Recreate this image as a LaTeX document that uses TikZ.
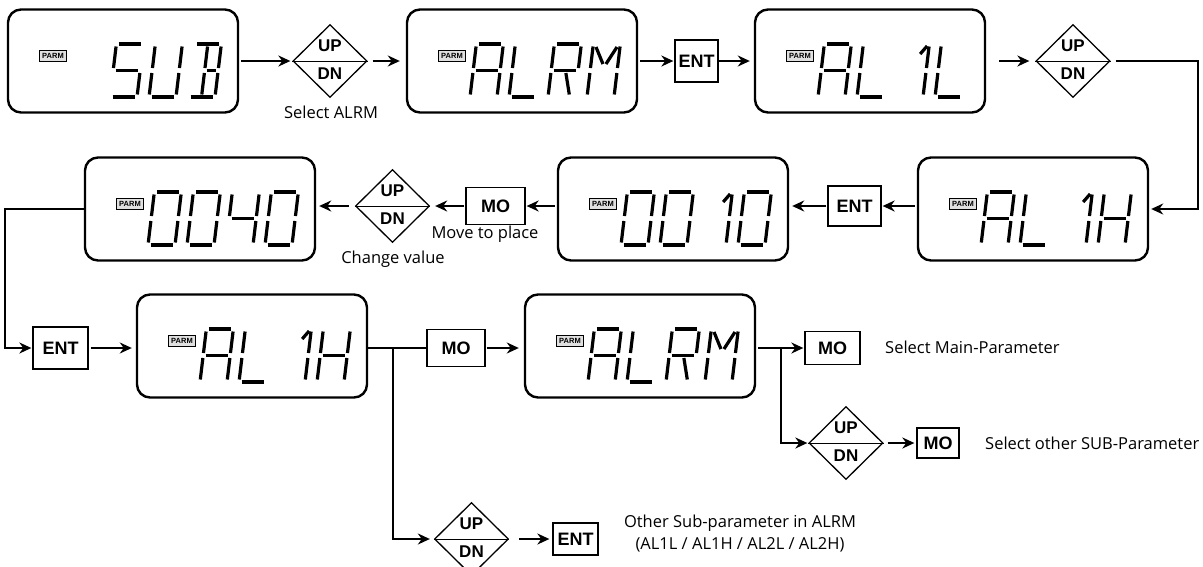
\documentclass[tikz,border=0pt]{standalone}
\usepackage{fontspec}
\setmainfont{Open Sans}
\newfontfamily\btnfont{Liberation Sans}
\usetikzlibrary{arrows.meta,shapes.geometric}

% seven-segment pieces (local cell coords: u right, v up; W=27, H=53)
\def\lcsa{\draw[lcdseg] (2.5,53)--(24.5,53);}
\def\lcsb{\draw[lcdseg] (27,50.5)--(27,29);}
\def\lcsc{\draw[lcdseg] (27,24)--(27,2.5);}
\def\lcsd{\draw[lcdseg] (2.5,0)--(24.5,0);}
\def\lcse{\draw[lcdseg] (0,24)--(0,2.5);}
\def\lcsf{\draw[lcdseg] (0,50.5)--(0,29);}
\def\lcsg{\draw[lcdseg] (2.5,26.5)--(24.5,26.5);}
\def\lcsh{\draw[lcdseg] (15.5,26.5)--(24.5,26.5);}
\def\lcsi{\draw[lcdseg] (13.5,50.5)--(13.5,29);}
\def\lcsl{\draw[lcdseg] (13.5,24)--(13.5,2.5);}
\def\lcsk{\draw[lcdseg] (15,24)--(21,2.5);}
\def\lcsm{\draw[lcdseg] (3,50)--(12,33);}
\def\lcso{\draw[lcdseg] (24,50)--(15,33);}
\def\lcsn{\draw[lcdseg] (25,51)--(19,43);}
\def\lcsz{}

\newcommand\lcdchar[3]{\begin{scope}[shift={(#1,#2)},x=1pt,y={(0.12pt,1pt)}]\foreach \s in {#3}{\csname lcs\s\endcsname}\end{scope}}

\newcommand\lcd[7]{%
 \node[lcdbox] (#1) at ({#2+115},#3) {};
 \node[parm] (#1p) at ({#2+45},{#3-5}) {PARM};
 \lcdchar{#2+63}{#3+36}{#4}%
 \lcdchar{#2+102}{#3+36}{#5}%
 \lcdchar{#2+141}{#3+36}{#6}%
 \lcdchar{#2+180}{#3+36}{#7}%
}

\newcommand\updn[3]{%
 \node[updn] (#1) at (#2,#3) {};
 \draw[line width=1pt] (#1.west) -- (#1.east);
 \node[keytxt] (#1u) at ([yshift=15pt]#1.center) {UP};
 \node[keytxt] (#1d) at ([yshift=-13pt]#1.center) {DN};
}

\begin{document}
\begin{tikzpicture}[x=1pt,y=-1pt,
  lcdbox/.style={draw, line width=2.4pt, rounded corners=13pt, minimum width=230pt, minimum height=103pt, inner sep=0pt},
  parm/.style={draw, line width=0.8pt, fill=black!12, inner sep=0pt, minimum width=27pt, minimum height=11pt, font=\btnfont\bfseries\fontsize{7.5}{7.5}\selectfont},
  lcdseg/.style={line width=3.2pt},
  btn/.style={draw, line width=1.3pt, inner sep=0pt, font=\btnfont\bfseries\fontsize{18}{18}\selectfont},
  updn/.style={diamond, draw, line width=1.3pt, inner sep=0pt, minimum width=74pt, minimum height=73pt},
  keytxt/.style={font=\btnfont\bfseries\fontsize{17}{17}\selectfont, inner sep=0pt},
  lbl/.style={font=\fontsize{16.5}{22}\selectfont, inner sep=0pt},
  arr/.style={line width=1.9pt, -{Stealth[length=12pt,width=11pt]}},
  ln/.style={line width=1.9pt}]
\fill[white] (0,0) rectangle (1203,566);
\useasboundingbox (0,0) rectangle (1203,566);

% ---------- row 1 ----------
\lcd{b1}{8}{61}{z}{a,f,g,c,d}{f,e,d,c,b}{a,b,c,d,h,i,l}
\updn{d1}{330}{61}
\lcd{b2}{407}{61}{a,b,c,e,f,g}{d,e,f}{a,b,f,e,g,k}{f,e,b,c,m,o}
\node[btn, minimum width=43pt, minimum height=42pt] (e1) at (696.5,61) {ENT};
\lcd{b3}{755}{61}{a,b,c,e,f,g}{d,e,f}{b,c,n}{d,e,f}
\updn{d2}{1073}{61}
\node[lbl] (t1) at (331,112) {Select ALRM};

% ---------- row 2 ----------
\lcd{b4}{918}{209}{a,b,c,e,f,g}{d,e,f}{b,c,n}{f,e,b,c,g}
\node[btn, minimum width=53pt, minimum height=40pt] (e2) at (854.5,206) {ENT};
\lcd{b5}{558}{209}{a,b,c,d,e,f}{a,b,c,d,e,f}{b,c,n}{a,b,c,d,e,f}
\node[btn, minimum width=59pt, minimum height=37pt] (m1) at (495.5,206) {MO};
\updn{d3}{392.5}{206}
\lcd{b6}{85}{209}{a,b,c,d,e,f}{a,b,c,d,e,f}{f,g,b,c}{a,b,c,d,e,f}
\node[lbl] (t2) at (485,234) {Move to place};
\node[lbl] (t3) at (393,259) {Change value};

% ---------- row 3 ----------
\node[btn, minimum width=55pt, minimum height=42pt] (e3) at (60.5,348) {ENT};
\lcd{b7}{137}{346}{a,b,c,e,f,g}{d,e,f}{b,c,n}{f,e,b,c,g}
\node[btn, minimum width=58pt, minimum height=37pt] (m2) at (456,348) {MO};
\lcd{b8}{525}{346}{a,b,c,e,f,g}{d,e,f}{a,b,f,e,g,k}{f,e,b,c,m,o}
\node[btn, minimum width=55pt, minimum height=33pt] (m3) at (832.5,348) {MO};
\node[lbl, anchor=west] (t4) at (885,347) {Select Main-Parameter};
\updn{d4}{846}{443}
\node[btn, minimum width=42pt, minimum height=30pt] (m4) at (938,443) {MO};
\node[lbl, anchor=west] (t5) at (985,443) {Select other SUB-Parameter};
\updn{d5}{471.5}{539}
\node[btn, minimum width=45pt, minimum height=32pt] (e4) at (575.5,539) {ENT};
\node[lbl, align=center] (t6) at (740,534) {Other Sub-parameter in ALRM\\(AL1L / AL1H / AL2L / AL2H)};

% ---------- connectors ----------
\coordinate (rx) at (1198,0);
\coordinate (lx) at (5,0);
\coordinate (br1) at (393,0);
\coordinate (br2) at (781,0);

\draw[arr, shorten <=2pt, shorten >=2pt] (b1.east) -- (d1.west);
\draw[arr, shorten <=5pt, shorten >=6pt] (d1.east) -- (b2.west);
\draw[arr, shorten <=2pt, shorten >=1pt] (b2.east) -- (e1.west);
\draw[arr, shorten >=4pt] (e1.east) -- (b3.west);
\draw[arr, shorten <=13pt, shorten >=6pt] (b3.east) -- (d2.west);
\draw[arr, shorten <=5pt, shorten >=2pt] (d2.east) -- (rx |- d2.east) -- (rx |- b4.east) -- (b4.east);

\draw[arr, shorten <=2pt, shorten >=1pt] (b4.west |- e2) -- (e2.east);
\draw[arr, shorten <=1pt, shorten >=3pt] (e2.west) -- (b5.east |- e2);
\draw[arr, shorten <=2pt, shorten >=1pt] (b5.west |- m1) -- (m1.east);
\draw[arr, shorten <=1pt, shorten >=5pt] (m1.west) -- (d3.east);
\draw[arr, shorten <=6pt, shorten >=3pt] (d3.west) -- (b6.east |- d3);
\draw[arr, shorten >=1pt] (b6.west) -- (lx |- b6.west) -- (lx |- e3) -- (e3.west);

\draw[arr, shorten <=2pt, shorten >=4pt] (e3.east) -- (b7.west |- e3);
\draw[ln] (b7.east |- m2) -- (m2.west);
\draw[arr, shorten >=4pt] (br1 |- m2) |- (d5.west);
\draw[arr, shorten <=1pt, shorten >=5pt] (m2.east) -- (b8.west |- m2);
\draw[arr, shorten <=2pt, shorten >=1pt] (b8.east |- m3) -- (m3.west);
\draw[arr, shorten >=1pt] (br2 |- m3) |- (d4.west);
\draw[arr, shorten <=4pt, shorten >=2pt] (d4.east) -- (m4.west);
\draw[arr, shorten <=10pt, shorten >=3pt] (d5.east) -- (e4.west);
\end{tikzpicture}
\end{document}
